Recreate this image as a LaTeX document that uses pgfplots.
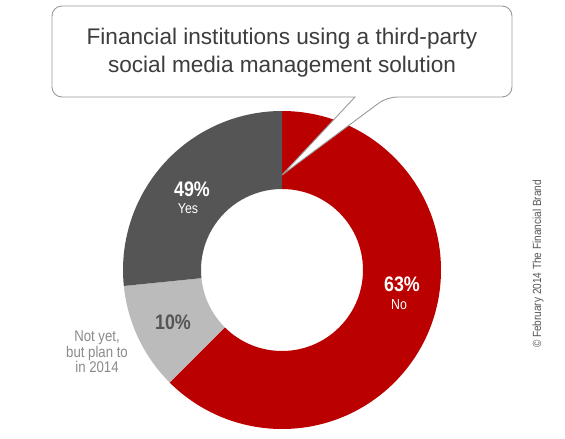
\documentclass[border=0pt]{standalone}
\usepackage{fontspec}
\setmainfont{Liberation Sans}
\newfontfamily\cond{Liberation Sans}[FakeStretch=0.85]
\usepackage{pgfplots}
\pgfplotsset{compat=1.18}

\definecolor{noRed}{HTML}{BB0000}
\definecolor{yesGray}{HTML}{555555}
\definecolor{planGray}{HTML}{BBBBBB}
\definecolor{titleGray}{HTML}{3D3D3D}
\definecolor{noteGray}{HTML}{8A8A8A}
\definecolor{boxGray}{HTML}{9A9A9A}

\pgfplotsset{
  canvas/.style={
    hide axis,
    scale only axis,
    width=565pt, height=439pt,
    xmin=0, xmax=565, ymin=0, ymax=439,
    y dir=reverse,
    clip=false,
  },
  % one ring sector per row: start and share in percent of the full circle
  donut/.style={
    only marks, scatter, mark=text, text mark={},
    visualization depends on={\thisrow{start} \as \slicestart},
    visualization depends on={\thisrow{share} \as \sliceshare},
    scatter/@pre marker code/.code={
      \pgfmathsetmacro\anga{90-3.6*\slicestart}
      \pgfmathsetmacro\angb{90-3.6*(\slicestart+\sliceshare)}
      \fill[#1, draw=none] (\anga:159pt) arc[start angle=\anga, end angle=\angb, radius=159pt]
        -- (\angb:81pt) arc[start angle=\angb, end angle=\anga, radius=81pt] -- cycle;
    },
    scatter/@post marker code/.code={},
  },
}

\begin{document}
\begin{tikzpicture}
\useasboundingbox (0,0) rectangle (565pt,439pt);
\begin{axis}[canvas]
  % No
  \addplot[donut=noRed] table {
    x   y   start share
    282 270 0     62.5
  };
  % Not yet, but plan to in 2014
  \addplot[donut=planGray] table {
    x   y   start share
    282 270 62.5  10.9
  };
  % Yes
  \addplot[donut=yesGray] table {
    x   y   start share
    282 270 73.4  26.6
  };
\end{axis}

% labels and bubble go in a second, identical axis so they sit over the ring
\begin{axis}[canvas]
  \draw[boxGray, line width=0.9pt, fill=white, rounded corners=10pt]
    (355,97) -- (52,97) -- (52,6) -- (512,6) -- (512,97) -- (387,97)
    [sharp corners] -- (282,175) -- cycle;

  \node[anchor=base, text=titleGray, font=\fontsize{22.6}{27}\selectfont]
    at (282,45) {Financial institutions using a third-party};
  \node[anchor=base, text=titleGray, font=\fontsize{22.6}{27}\selectfont]
    at (282,73) {social media management solution};

  \node[text=white, font=\cond\bfseries\fontsize{21}{24}\selectfont] at (402,284) {63\%};
  \node[text=white, font=\cond\fontsize{14.5}{16}\selectfont] at (399,305) {No};
  \node[text=white, font=\cond\bfseries\fontsize{21}{24}\selectfont] at (192,189) {49\%};
  \node[text=white, font=\cond\fontsize{14.5}{16}\selectfont] at (188,209) {Yes};
  \node[text=yesGray, font=\cond\bfseries\fontsize{21}{24}\selectfont] at (173,322) {10\%};
  \node[text=noteGray, align=center, font=\cond\fontsize{15.5}{14}\selectfont]
    at (97,352) {Not yet,\\but plan to\\in 2014};

  \node[rotate=90, text=yesGray, font=\cond\fontsize{11.8}{14}\selectfont]
    at (538,264) {© February 2014 The Financial Brand};
\end{axis}
\end{tikzpicture}
\end{document}
